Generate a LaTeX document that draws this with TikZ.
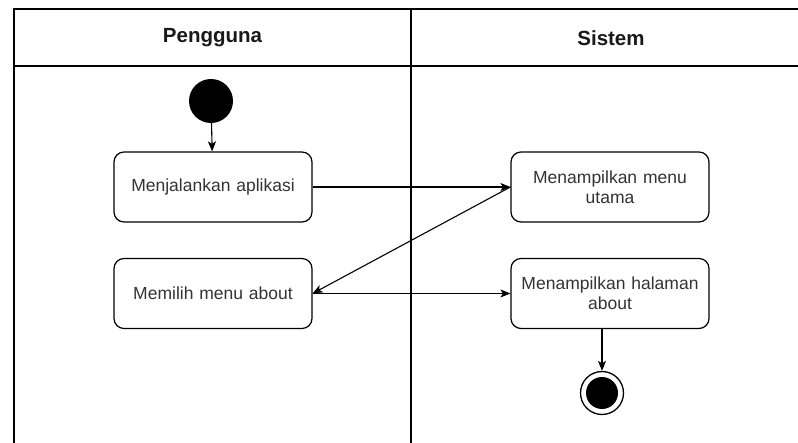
\documentclass[tikz,border=0pt]{standalone}
\usepackage{fontspec}
\setmainfont{Liberation Sans}
\usetikzlibrary{arrows.meta}
\definecolor{txt}{HTML}{333333}
\tikzset{
  act/.style={draw=black, line width=1.2pt, rounded corners=10pt, minimum width=198pt, minimum height=70pt, align=center, text=txt, font=\fontsize{17.5}{20}\selectfont, inner sep=2pt, text width=194pt},
  hdr/.style={font=\bfseries\fontsize{20.5}{23}\selectfont, text=black!90},
  flow/.style={draw=black, line width=1.1pt, -{Stealth[length=10pt,width=8pt,inset=2.5pt]}},
  lane/.style={draw=black, line width=1.5pt}
}
\begin{document}
\begin{tikzpicture}[x=1pt,y=-1pt]
\useasboundingbox (0,0) rectangle (798,443);
\begin{scope}
\clip (0,0) rectangle (798,443);
\draw[lane] (14,460) -- (14,9) -- (820,9);
\draw[lane] (14,66) -- (820,66);
\draw[lane] (411,9) -- (411,460);
\end{scope}
\node[hdr] (h1) at (212.5,38) {Pengguna};
\node[hdr] (h2) at (611,38) {Sistem};
\node[circle, fill=black, minimum size=44pt, inner sep=0pt] (start) at (211,101) {};
\node[act] (a1) at (213,187) {Menjalankan aplikasi};
\node[act] (a2) at (213,293.5) {Memilih menu about};
\node[act] (b1) at (610,187) {Menampilkan menu\\utama};
\node[act] (b2) at (610,293.5) {Menampilkan halaman\\about};
\node[circle, draw=black, line width=1.3pt, minimum size=43pt, inner sep=0pt] (end) at (602,393) {};
\node[circle, fill=black, minimum size=32pt, inner sep=0pt] at (end) {};
\draw[flow] (start) -- (a1);
\draw[flow] (a1) -- (b1);
\draw[flow] (b1.west) -- (a2.east);
\draw[flow] (a2) -- (b2);
\draw[flow] (b2.south -| end) -- (end);
\end{tikzpicture}
\end{document}
